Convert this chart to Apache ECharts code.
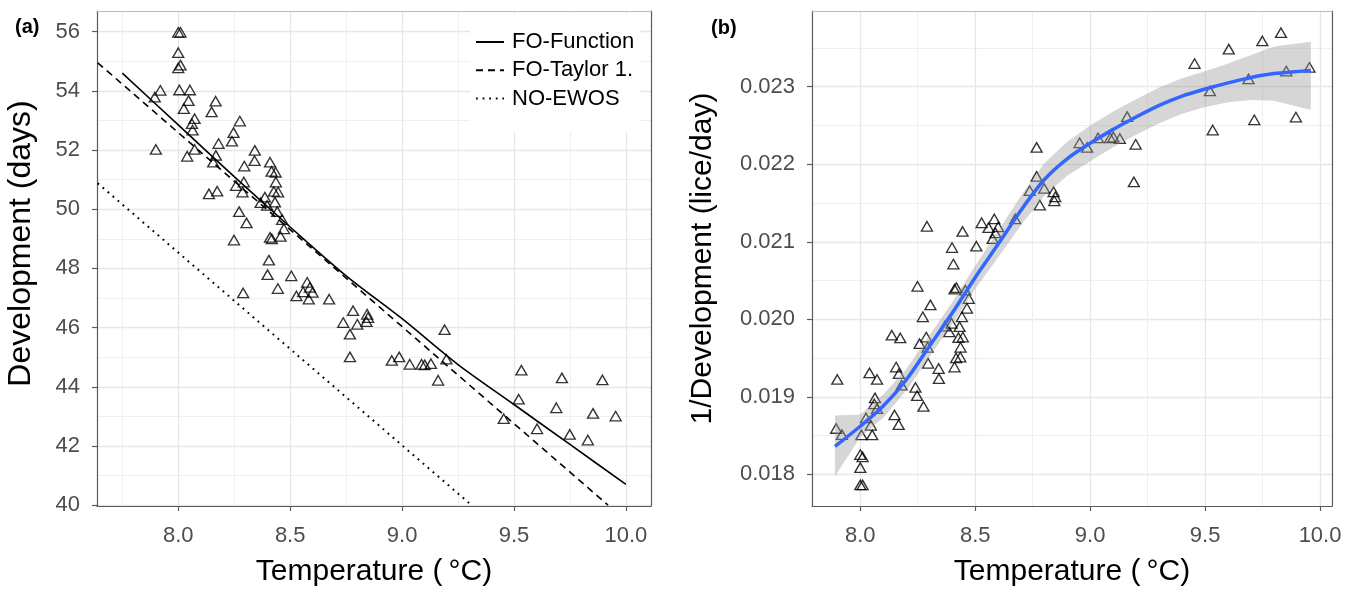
<!DOCTYPE html>
<html>
<head>
<meta charset="utf-8">
<script src="https://cdn.jsdelivr.net/npm/echarts@6/dist/echarts.min.js"></script>
<style>
  html, body { margin: 0; padding: 0; background: #fff; }
  #chart { width: 1355px; height: 589px; }
</style>
</head>
<body>
<div id="chart"></div>
<script>
// Observed development time of lice per temperature (panel a); panel b shows 1/development.
const temperature = [
  8.00, 8.01, 8.00, 8.01, 8.00, 7.92, 7.895, 8.005, 8.052, 8.046,
  8.025, 8.167, 8.149, 8.073, 8.061, 8.064, 7.90, 8.04, 8.073, 8.18,
  8.168, 8.156, 8.137, 8.174, 8.275, 8.247, 8.24, 8.342, 8.341, 8.295,
  8.293, 8.258, 8.287, 8.272, 8.305, 8.249, 8.41, 8.417, 8.435, 8.436,
  8.427, 8.446, 8.387, 8.368, 8.397, 8.432, 8.442, 8.464, 8.472, 8.457,
  8.41, 8.418, 8.405, 8.399, 8.505, 8.445, 8.29, 8.576, 8.588, 8.558,
  8.60, 8.528, 8.583, 8.674, 8.781, 8.737, 8.80, 8.767, 8.844, 8.848,
  8.841, 8.767, 9.19, 8.954, 8.987, 9.034, 9.087, 9.101, 9.129, 9.198,
  9.161, 9.533, 9.521, 9.454, 9.603, 9.714, 9.689, 9.749, 9.83, 9.895,
  9.853, 9.954
];
const development = [
  55.98, 55.98, 55.29, 54.87, 54.78, 54.02, 53.79, 54.03, 54.03, 53.67,
  53.40, 53.65, 53.29, 53.06, 52.89, 52.67, 52.02, 51.79, 52.02, 52.22,
  51.82, 51.59, 50.52, 50.61, 52.98, 52.59, 52.30, 51.99, 51.64, 51.46,
  50.92, 50.80, 50.58, 49.92, 49.54, 48.96, 51.59, 51.28, 51.25, 50.92,
  50.60, 50.58, 50.41, 50.22, 50.13, 50.24, 49.92, 49.65, 49.34, 49.08,
  49.05, 49.00, 48.28, 47.79, 47.75, 47.32, 47.17, 47.53, 47.36, 47.21,
  47.19, 47.07, 46.96, 46.96, 46.57, 46.17, 46.11, 45.78, 46.45, 46.34,
  46.20, 45.01, 45.93, 44.89, 45.01, 44.76, 44.76, 44.74, 44.78, 44.93,
  44.22, 44.56, 43.58, 42.92, 42.58, 44.30, 43.29, 42.39, 42.20, 44.23,
  43.10, 43.01
];
// Development rate (lice/day) is the reciprocal of development time
const devRate = development.map(d => 1 / d);

// Model predictions, panel a
const fofTemp = [7.75, 8.0, 8.25, 8.5, 8.75, 9.0, 9.25, 9.5, 9.75, 10.0];
const fofDev  = [54.6, 52.85, 51.1, 49.4, 47.75, 46.3, 44.75, 43.4, 42.05, 40.7];
const taylorTemp = [7.64, 9.92];
const taylorDev  = [54.95, 40.0];
const ewosTemp = [7.64, 9.31];
const ewosDev  = [50.88, 40.0];

// Smoothed rate with its confidence band, panel b
const smoothTemp  = [7.89, 8.0, 8.1, 8.2, 8.3, 8.4, 8.5, 8.6, 8.7, 8.8, 8.9, 9.0, 9.1, 9.2, 9.3, 9.4, 9.5, 9.6, 9.7, 9.8, 9.96];
const smoothRate  = [0.01836, 0.01862, 0.01888, 0.01922, 0.01965, 0.02008, 0.02054, 0.02097, 0.02141, 0.02180, 0.02207,
                     0.02227, 0.02245, 0.02261, 0.02276, 0.02288, 0.02297, 0.02305, 0.02312, 0.02317, 0.02321];
const smoothLower = [0.01797, 0.01848, 0.01873, 0.01908, 0.01951, 0.01994, 0.02039, 0.02080, 0.02122, 0.02159, 0.02185,
                     0.02204, 0.02222, 0.02238, 0.02253, 0.02265, 0.02274, 0.02280, 0.02283, 0.02282, 0.02270];
const smoothUpper = [0.01876, 0.01877, 0.01903, 0.01936, 0.01979, 0.02022, 0.02069, 0.02114, 0.02160, 0.02201, 0.02229,
                     0.02250, 0.02268, 0.02284, 0.02299, 0.02311, 0.02320, 0.02330, 0.02341, 0.02352, 0.02358];

// Axis ticks
const tempTicks = [8.0, 8.5, 9.0, 9.5, 10.0];
const tempMinor = [7.75, 8.25, 8.75, 9.25, 9.75];
const devTicks  = [40, 42, 44, 46, 48, 50, 52, 54, 56];
const devMinor  = [41, 43, 45, 47, 49, 51, 53, 55];
const rateTicks = [0.018, 0.019, 0.020, 0.021, 0.022, 0.023];
const rateMinor = [0.0185, 0.0195, 0.0205, 0.0215, 0.0225, 0.0235];

const FONT = '"Liberation Sans", Arial, Helvetica, sans-serif';
const BORDER = '#5a5a5a';
const zip = (a, b) => a.map((v, i) => [v, b[i]]);

function mainX(grid, min, max) {
  return {
    type: 'value', gridIndex: grid, position: 'bottom', min, max,
    axisLine: { show: true, onZero: false, lineStyle: { color: BORDER, width: 1.2 } },
    axisTick: { show: true, length: 5, customValues: tempTicks, lineStyle: { color: BORDER, width: 1.2 } },
    axisLabel: { customValues: tempTicks, formatter: v => v.toFixed(1), color: '#4d4d4d', fontSize: 22, fontFamily: FONT, margin: 19 },
    splitLine: { show: true, lineStyle: { color: '#e6e6e6', width: 1.3 } },
    name: 'Temperature (\u2009\u00b0C)', nameLocation: 'middle', nameGap: 51,
    nameTextStyle: { fontSize: 30, color: '#000', fontFamily: FONT }
  };
}
function minorX(grid, min, max) {
  return {
    type: 'value', gridIndex: grid, position: 'top', min, max,
    axisLine: { show: true, onZero: false, lineStyle: { color: '#bdbdbd', width: 1 } },
    axisTick: { show: false, customValues: tempMinor },
    axisLabel: { show: false },
    splitLine: { show: true, lineStyle: { color: '#efefef', width: 1 } }
  };
}
function mainY(grid, min, max, ticks, fmt, name, gap, size, pad) {
  return {
    type: 'value', gridIndex: grid, position: 'left', min, max,
    axisLine: { show: true, onZero: false, lineStyle: { color: BORDER, width: 1.2 } },
    axisTick: { show: true, length: 5, customValues: ticks, lineStyle: { color: BORDER, width: 1.2 } },
    axisLabel: { customValues: ticks, formatter: fmt, color: '#4d4d4d', fontSize: 22, fontFamily: FONT, margin: 17 },
    splitLine: { show: true, lineStyle: { color: '#e6e6e6', width: 1.3 } },
    name, nameLocation: 'middle', nameGap: gap,
    nameTextStyle: { fontSize: size, color: '#000', fontFamily: FONT, padding: pad }
  };
}
function minorY(grid, min, max, ticks) {
  return {
    type: 'value', gridIndex: grid, position: 'right', min, max,
    axisLine: { show: true, onZero: false, lineStyle: { color: BORDER, width: 1.2 } },
    axisTick: { show: false, customValues: ticks },
    axisLabel: { show: false },
    splitLine: { show: true, lineStyle: { color: '#efefef', width: 1 } }
  };
}

const triangle = {
  type: 'scatter', symbol: 'triangle', symbolSize: [11, 9.5], z: 2,
  itemStyle: { color: 'rgba(0,0,0,0)', borderColor: '#000', borderWidth: 1.35 },
  emphasis: { disabled: true }, silent: true
};
const noMarker = { color: 'rgba(0,0,0,0)', opacity: 0 };

const chart = echarts.init(document.getElementById('chart'), null, { renderer: 'canvas' });
chart.setOption({
  animation: false,
  backgroundColor: '#fff',
  grid: [
    { left: 97, top: 11, width: 554, height: 495, containLabel: false, outerBoundsMode: 'none' },
    { left: 812, top: 11, width: 520, height: 495, containLabel: false, outerBoundsMode: 'none' }
  ],
  xAxis: [
    mainX(0, 7.637, 10.112), minorX(0, 7.637, 10.112),
    mainX(1, 7.79, 10.052), minorX(1, 7.79, 10.052)
  ],
  yAxis: [
    mainY(0, 39.97, 56.70, devTicks, v => String(Math.round(v)), 'Development (days)', 60, 32, [0, 0, 0, 30]),
    minorY(0, 39.97, 56.70, devMinor),
    mainY(1, 0.017591, 0.023977, rateTicks, v => v.toFixed(3), '1/Development (lice/day)', 94, 30, 0),
    minorY(1, 0.017591, 0.023977, rateMinor)
  ],
  legend: {
    data: ['FO-Function', 'FO-Taylor 1.', 'NO-EWOS'],
    orient: 'vertical', left: 470, top: 14,
    padding: [17, 6, 22, 5], backgroundColor: '#fff',
    itemWidth: 28, itemHeight: 22, itemGap: 6.3,
    itemStyle: { opacity: 0 },
    textStyle: { fontSize: 22, color: '#000', fontFamily: FONT, lineHeight: 22, padding: [0, 0, 0, 3] },
    selectedMode: false
  },
  graphic: [
    { type: 'text', left: 15, top: 17, style: { text: '(a)', font: 'bold 20px ' + FONT, fill: '#000' } },
    { type: 'text', left: 711, top: 18, style: { text: '(b)', font: 'bold 20px ' + FONT, fill: '#000' } }
  ],
  series: [
    Object.assign({}, triangle, { name: 'observed', xAxisIndex: 0, yAxisIndex: 0, data: zip(temperature, development) }),
    {
      name: 'FO-Function', type: 'line', xAxisIndex: 0, yAxisIndex: 0, data: zip(fofTemp, fofDev),
      symbol: 'none', smooth: 0.3, z: 3, silent: true,
      lineStyle: { color: '#000', width: 1.6 }, itemStyle: noMarker
    },
    {
      name: 'FO-Taylor 1.', type: 'line', xAxisIndex: 0, yAxisIndex: 0, data: zip(taylorTemp, taylorDev),
      symbol: 'none', z: 3, silent: true,
      lineStyle: { color: '#000', width: 1.6, type: [7, 5] }, itemStyle: noMarker
    },
    {
      name: 'NO-EWOS', type: 'line', xAxisIndex: 0, yAxisIndex: 0, data: zip(ewosTemp, ewosDev),
      symbol: 'none', z: 3, silent: true,
      lineStyle: { color: '#000', width: 2, type: [1.8, 4.8] }, itemStyle: noMarker
    },
    Object.assign({}, triangle, { name: 'rate', xAxisIndex: 2, yAxisIndex: 2, data: zip(temperature, devRate) }),
    {
      name: 'band', type: 'custom', xAxisIndex: 2, yAxisIndex: 2, z: 3, silent: true, clip: true,
      data: smoothTemp.map((t, i) => [t, smoothLower[i], smoothUpper[i]]),
      encode: { x: 0, y: [1, 2] },
      renderItem: function (params, api) {
        if (params.dataIndex !== 0) return null;
        const pts = [];
        for (let i = 0; i < smoothTemp.length; i++) pts.push(api.coord([smoothTemp[i], smoothUpper[i]]));
        for (let i = smoothTemp.length - 1; i >= 0; i--) pts.push(api.coord([smoothTemp[i], smoothLower[i]]));
        return { type: 'polygon', shape: { points: pts }, style: { fill: 'rgba(153,153,153,0.4)' } };
      }
    },
    {
      name: 'smooth', type: 'line', xAxisIndex: 2, yAxisIndex: 2, data: zip(smoothTemp, smoothRate),
      symbol: 'none', smooth: 0.3, z: 4, silent: true,
      lineStyle: { color: '#3366ff', width: 3.5 }
    }
  ]
});
</script>
</body>
</html>
